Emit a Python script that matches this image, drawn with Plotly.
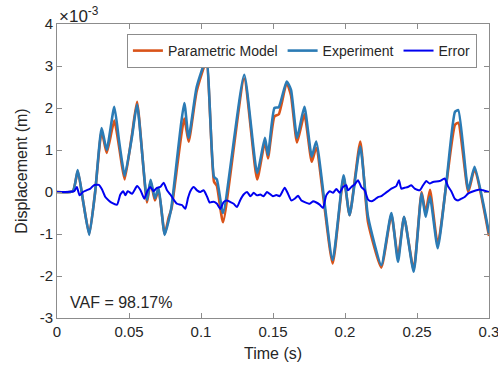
import plotly.graph_objects as go

# Values in units of 1e-3 m
exp_t = [0.000, 0.011, 0.0144, 0.0185, 0.0224, 0.0265, 0.031, 0.0345, 0.0398, 0.043, 0.045, 0.047,
         0.052, 0.0556, 0.0625, 0.065, 0.068, 0.0705, 0.0748, 0.0776, 0.0795, 0.0884, 0.0914, 0.097,
         0.1037, 0.109, 0.111, 0.1153, 0.130, 0.139, 0.1444, 0.1465, 0.151, 0.154, 0.1595, 0.1625,
         0.1667, 0.1718, 0.1769, 0.180, 0.1914, 0.199, 0.2032, 0.2106, 0.216, 0.2252, 0.2322, 0.2368,
         0.241, 0.2477, 0.2532, 0.256, 0.259, 0.2644, 0.2706, 0.2764, 0.2787, 0.2856, 0.290, 0.300]
exp_y = [0.0, 0.02, 0.52, -0.3, -1.02, 0.0, 1.52, 1.0, 2.03, 1.24, 0.76, 0.38,
         1.3, 2.08, -0.19, 0.29, -0.15, 0.1, -1.02, -0.67, -0.36, 2.12, 1.29, 2.5,
         3.16, 0.36, 0.3, -0.5, 2.79, 0.45, 1.29, 0.88, 2.0, 2.02, 2.63, 2.43,
         1.29, 2.03, 0.84, 1.2, -1.62, 0.4, -0.55, 1.08, -0.59, -1.74, -0.5, -1.66,
         -0.59, -1.9, -0.03, -0.59, -0.11, -1.34, 0.29, 1.91, 1.95, 0.05, 0.6, -0.98]
model_y = [0.0, 0.02, 0.5, -0.3, -1.0, 0.0, 1.45, 0.93, 1.7, 1.1, 0.65, 0.3,
           1.35, 2.15, -0.25, 0.25, -0.2, 0.05, -1.0, -0.6, -0.4, 1.75, 1.2, 2.4,
           3.1, 0.25, 0.15, -0.72, 2.7, 0.3, 1.2, 0.8, 1.8, 1.85, 2.6, 2.3,
           1.18, 1.85, 0.72, 1.05, -1.7, 0.35, -0.55, 1.2, -0.72, -1.8, -0.55, -1.55,
           -0.6, -1.85, 0.0, -0.5, 0.05, -1.25, 0.25, 1.6, 1.65, 0.0, 0.55, -1.05]

err_t = [0.000, 0.012, 0.0138, 0.0157, 0.018, 0.0205, 0.0232, 0.0255, 0.029, 0.0313, 0.0336, 0.0359,
         0.0382, 0.0417, 0.044, 0.046, 0.0475, 0.0491, 0.0522, 0.0556, 0.058, 0.0606, 0.0627,
         0.0648, 0.067, 0.0694, 0.0717, 0.0741, 0.0764, 0.0787, 0.081, 0.0833, 0.0868, 0.0891,
         0.091, 0.0926, 0.0949, 0.0972, 0.0995, 0.1018, 0.1041, 0.106, 0.1088, 0.1111, 0.1134,
         0.1157, 0.118, 0.1204, 0.1227, 0.125, 0.1273, 0.1296, 0.132, 0.1343, 0.1366, 0.1389,
         0.1412, 0.1435, 0.1458, 0.148, 0.150, 0.1523, 0.1546, 0.1581, 0.1604, 0.1627, 0.165,
         0.1674, 0.1697, 0.172, 0.1755, 0.1778, 0.1801, 0.1824, 0.1847, 0.187, 0.1894, 0.1917,
         0.194, 0.1963, 0.1986, 0.2009, 0.2021, 0.2044, 0.2067, 0.209, 0.2113, 0.2137, 0.216,
         0.2183, 0.2206, 0.2229, 0.2252, 0.2275, 0.2299, 0.2322, 0.2356, 0.2375, 0.2391, 0.2414,
         0.2437, 0.246, 0.2484, 0.2518, 0.2542, 0.2565, 0.2588, 0.2611, 0.2657, 0.2692, 0.2715,
         0.2738, 0.2762, 0.2785, 0.2808, 0.2831, 0.2854, 0.2877, 0.2912, 0.2935, 0.2958, 0.300]
err_y = [0.0, 0.02, 0.12, -0.08, 0.0, 0.04, 0.08, 0.16, 0.17, 0.06, -0.12, -0.2,
         -0.26, -0.3, -0.06, 0.02, -0.08, 0.02, -0.04, 0.14, 0.04, -0.16, 0.02,
         0.12, 0.02, 0.1, 0.12, 0.22, 0.04, -0.06, -0.18, -0.28, -0.31, -0.4,
         -0.14, 0.02, 0.12, 0.04, 0.0, 0.04, -0.1, -0.25, -0.23, -0.28, -0.4,
         -0.24, -0.2, -0.24, -0.28, -0.36, -0.19, -0.06, 0.0, -0.1, -0.02, -0.08,
         -0.06, -0.1, 0.0, -0.05, -0.1, -0.07, -0.1, 0.1, -0.04, -0.2, -0.16,
         -0.09, -0.2, -0.24, -0.28, -0.22, -0.25, -0.3, -0.38, -0.08, 0.02, -0.02,
         0.07, -0.02, 0.12, 0.16, 0.04, 0.12, 0.18, 0.28, 0.12, 0.04, -0.18,
         -0.22, -0.18, -0.12, -0.1, -0.04, 0.02, 0.08, 0.14, 0.28, 0.08, 0.1,
         0.12, 0.16, 0.08, 0.04, 0.16, 0.26, 0.2, 0.24, 0.26, 0.32, 0.14,
         0.02, -0.16, -0.2, -0.16, -0.12, -0.04, 0.0, 0.04, 0.06, 0.04, 0.0]

x_ticks = [0, 0.05, 0.1, 0.15, 0.2, 0.25, 0.3]
x_tick_labels = ["0", "0.05", "0.1", "0.15", "0.2", "0.25", "0.3"]
y_ticks = [-3, -2, -1, 0, 1, 2, 3, 4]
y_tick_labels = ["-3", "-2", "-1", "0", "1", "2", "3", "4"]
vaf_text = "VAF = 98.17%"

FONT = "Liberation Sans, Arial, sans-serif"
TXT = "#262626"
AX = "#8c8c8c"

fig = go.Figure()
fig.add_trace(go.Scatter(x=exp_t, y=model_y, mode="lines", name="Parametric Model",
                         line=dict(color="#D95319", width=2.6, shape="spline", smoothing=0.5)))
fig.add_trace(go.Scatter(x=exp_t, y=exp_y, mode="lines", name="Experiment",
                         line=dict(color="#2B7BB5", width=2.6, shape="spline", smoothing=0.5)))
fig.add_trace(go.Scatter(x=err_t, y=err_y, mode="lines", name="Error",
                         line=dict(color="#0000F0", width=2, shape="spline", smoothing=0.5)))

fig.update_layout(
    width=498, height=366,
    margin=dict(l=57, r=9, t=24, b=48, autoexpand=False),
    paper_bgcolor="white", plot_bgcolor="white",
    font=dict(family=FONT, size=14, color=TXT),
    showlegend=True,
    legend=dict(orientation="h", x=0.972, xanchor="right", y=0.966, yanchor="top",
                bgcolor="white", bordercolor="#8c8c8c", borderwidth=1,
                font=dict(family=FONT, size=14, color=TXT),
                itemwidth=30, tracegroupgap=0),
    xaxis=dict(range=[0, 0.3], tickvals=x_ticks, ticktext=x_tick_labels,
               ticks="inside", ticklen=5, tickcolor=AX, showline=True, linecolor=AX,
               linewidth=1, mirror="ticks", showgrid=False, zeroline=False,
               ticklabeloverflow="allow", automargin=False,
               title=dict(text="Time (s)", font=dict(size=16, color=TXT), standoff=8),
               tickfont=dict(size=15, color=TXT)),
    yaxis=dict(range=[-3, 4], tickvals=y_ticks, ticktext=y_tick_labels,
               ticks="inside", ticklen=5, tickcolor=AX, showline=True, linecolor=AX,
               linewidth=1, mirror="ticks", showgrid=False, zeroline=False,
               automargin=False,
               title=dict(text="Displacement (m)", font=dict(size=16, color=TXT), standoff=8),
               tickfont=dict(size=15, color=TXT)),
)

fig.add_annotation(x=0, y=1, xref="paper", yref="paper", xanchor="left", yanchor="bottom",
                   text="×10<sup>-3</sup>", showarrow=False, yshift=-4,
                   font=dict(family=FONT, size=17, color=TXT))
fig.add_annotation(x=0.0075, y=-2.62, xref="x", yref="y", xanchor="left", yanchor="middle",
                   text=vaf_text, showarrow=False, font=dict(family=FONT, size=16, color=TXT))

fig.write_html("out.html")
